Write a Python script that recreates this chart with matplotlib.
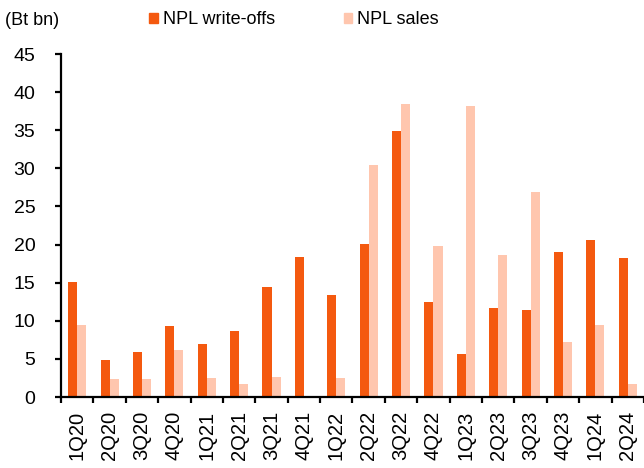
import matplotlib.pyplot as plt
import numpy as np
from matplotlib.patches import Patch
from matplotlib.ticker import FixedLocator

plt.rcParams["font.family"] = ["Liberation Sans", "DejaVu Sans"]
plt.rcParams["font.size"] = 13

quarters = ["1Q20", "2Q20", "3Q20", "4Q20", "1Q21", "2Q21", "3Q21", "4Q21",
            "1Q22", "2Q22", "3Q22", "4Q22", "1Q23", "2Q23", "3Q23", "4Q23",
            "1Q24", "2Q24"]
write_offs = [15.1, 4.8, 5.9, 9.3, 6.9, 8.6, 14.4, 18.4,
              13.4, 20.1, 34.9, 12.5, 5.7, 11.7, 11.35, 19.0,
              20.6, 18.3]
npl_sales = [9.4, 2.4, 2.3, 6.2, 2.5, 1.7, 2.6, 0.0,
             2.5, 30.5, 38.4, 19.8, 38.2, 18.6, 26.9, 7.2,
             9.4, 1.7]

ORANGE = "#F4590F"
PEACH = "#FFC6AE"


def main() -> None:
    fig = plt.figure(figsize=(6.44, 4.68), dpi=100)
    ax = fig.add_axes([0.0947, 0.1517, 0.9053, 0.7329])

    x = np.arange(len(quarters))
    w = 0.28
    ax.bar(x - w / 2, write_offs, width=w, color=ORANGE, label="NPL write-offs")
    ax.bar(x + w / 2, npl_sales, width=w, color=PEACH, label="NPL sales")

    ax.set_xlim(-0.5, len(quarters) - 0.5)
    ax.set_ylim(0, 45)
    ax.set_yticks(np.arange(0, 46, 5))

    # boundary ticks between quarters, labels centred under each group
    ax.xaxis.set_major_locator(FixedLocator(np.arange(-0.5, len(quarters), 1.0)))
    ax.xaxis.set_major_formatter(plt.NullFormatter())
    ax.xaxis.set_minor_locator(FixedLocator(x))
    ax.set_xticklabels(quarters, minor=True, rotation=90)
    ax.tick_params(axis="x", which="major", length=4.5, width=1.6, direction="out")
    ax.tick_params(axis="x", which="minor", length=0, pad=10, labelsize=14.5)
    ax.tick_params(axis="y", length=4.5, width=1.6, direction="out", pad=14,
                   labelsize=14)

    for side in ("top", "right"):
        ax.spines[side].set_visible(False)
    for side in ("left", "bottom"):
        ax.spines[side].set_linewidth(1.6)

    fig.text(0.007, 0.957, "(Bt bn)", fontsize=13, va="center", ha="left")

    handles = [Patch(color=ORANGE, label="NPL write-offs"),
               Patch(color=PEACH, label="NPL sales")]
    fig.legend(handles=handles, loc="center left", bbox_to_anchor=(0.232, 0.958),
               ncol=2, frameon=False, handlelength=0.46, handleheight=0.5,
               handletextpad=0.28, columnspacing=3.8, borderaxespad=0,
               borderpad=0, fontsize=13)

    fig.savefig("out.png", dpi=100)
    plt.close(fig)


if __name__ == "__main__":
    main()
